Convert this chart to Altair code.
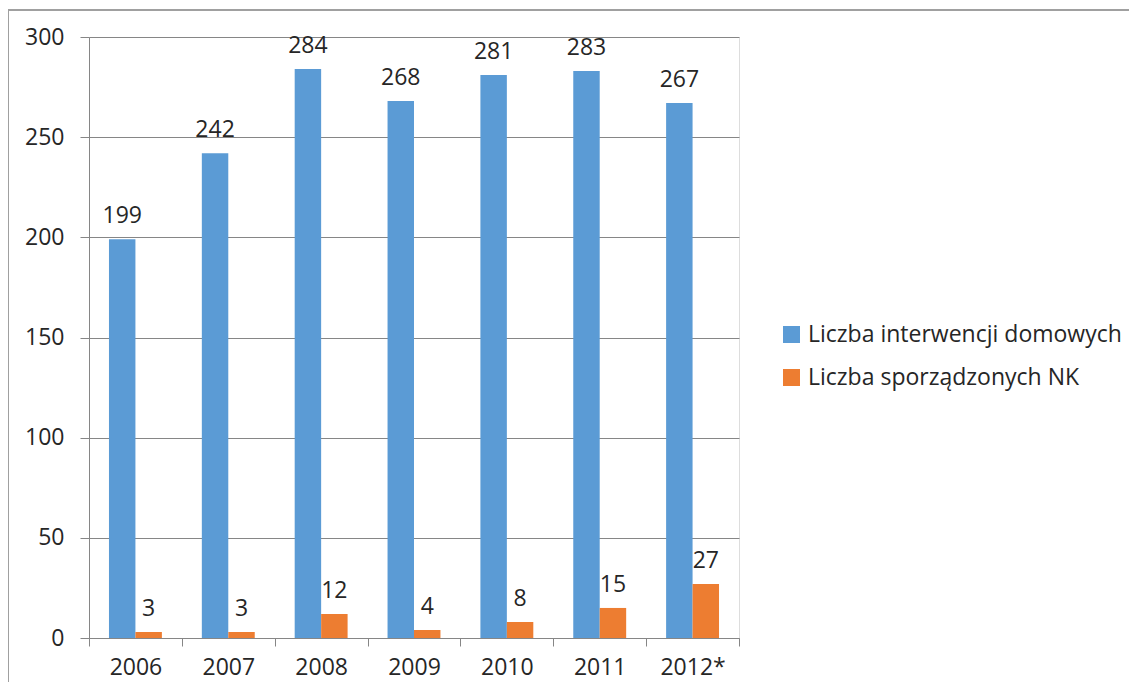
import altair as alt
import pandas as pd

years = ["2006", "2007", "2008", "2009", "2010", "2011", "2012*"]
interwencje = [199, 242, 284, 268, 281, 283, 267]
nk = [3, 3, 12, 4, 8, 15, 27]
series = ["Liczba interwencji domowych", "Liczba sporządzonych NK"]
colors = ["#5B9BD5", "#ED7D31"]

rows = []
for y, a, b in zip(years, interwencje, nk):
    rows.append({"rok": y, "seria": series[0], "wartosc": a})
    rows.append({"rok": y, "seria": series[1], "wartosc": b})
df = pd.DataFrame(rows)

FONT = "Open Sans"
FS = 23
TXT = "#262626"
GRID = "#868686"

x = alt.X("rok:N", sort=years, title=None,
          scale=alt.Scale(paddingInner=0, paddingOuter=0),
          axis=alt.Axis(labelAngle=0, tickBand="extent", tickSize=8, domainColor=GRID,
                        tickColor=GRID, labelFontSize=FS, labelFont=FONT, labelColor=TXT,
                        labelPadding=10, grid=False))
xo = alt.XOffset("seria:N", sort=series,
                 scale=alt.Scale(paddingInner=0, paddingOuter=0.755))
y = alt.Y("wartosc:Q", title=None,
          scale=alt.Scale(domain=[0, 300], nice=False),
          axis=alt.Axis(values=[0, 50, 100, 150, 200, 250, 300], tickSize=9,
                        tickColor=GRID, domainColor=GRID, gridColor=GRID,
                        labelFontSize=FS, labelFont=FONT, labelColor=TXT,
                        labelPadding=16))

bars = alt.Chart(df).mark_bar().encode(
    x=x, xOffset=xo, y=y,
    color=alt.Color("seria:N", sort=series, title=None,
                    scale=alt.Scale(domain=series, range=colors),
                    legend=alt.Legend(orient="none", legendX=691, legendY=286,
                                      symbolType="square", symbolSize=289,
                                      symbolStrokeWidth=0, labelFontSize=FS,
                                      labelFont=FONT, labelColor=TXT, rowPadding=19,
                                      labelLimit=400, labelOffset=5)),
)

labels = alt.Chart(df).mark_text(baseline="alphabetic", dy=-16, fontSize=FS,
                                 font=FONT, color=TXT).encode(
    x=x, xOffset=xo, y=y, text="wartosc:Q")

frame_top = alt.Chart(df).mark_rule(color="#a0a0a0", strokeWidth=1.2).encode(
    x=alt.value(-81), x2=alt.value(1045), y=alt.value(-27))
frame_left = alt.Chart(df).mark_rule(color="#a0a0a0", strokeWidth=1.2).encode(
    x=alt.value(-81), y=alt.value(-27), y2=alt.value(700))

chart = alt.layer(frame_top, frame_left, bars, labels).properties(
    width=650, height=601,
    autosize=alt.AutoSizeParams(type="none"),
    padding={"left": 81, "top": 29, "right": 390, "bottom": 44},
).configure_view(stroke=None).configure(background="white")

chart.save("out.html", embed_options={"renderer": "svg", "actions": False})
